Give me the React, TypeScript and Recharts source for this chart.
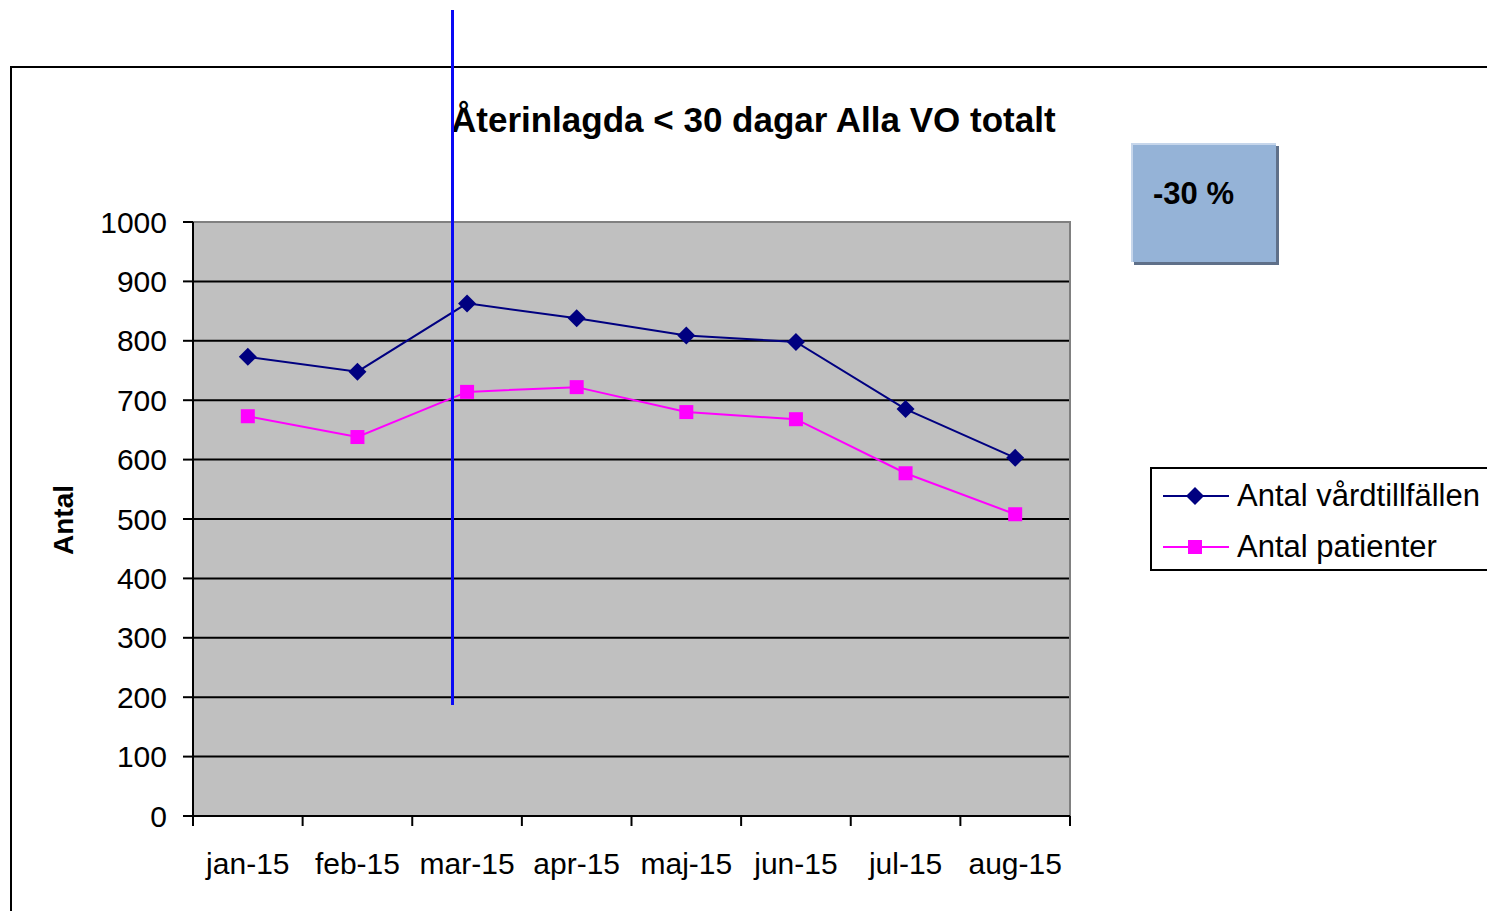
import React from 'react';
import {
  LineChart,
  Line,
  XAxis,
  YAxis,
  CartesianGrid,
  ReferenceArea,
  Legend,
} from 'recharts';

const months = ['jan-15', 'feb-15', 'mar-15', 'apr-15', 'maj-15', 'jun-15', 'jul-15', 'aug-15'];
const vardtillfallen = [773, 748, 863, 838, 809, 798, 685, 603];
const patienter = [673, 638, 714, 722, 680, 668, 577, 508];
const yTicks = [0, 100, 200, 300, 400, 500, 600, 700, 800, 900, 1000];

const FONT = '"Liberation Sans", Arial, sans-serif';
const NAVY = '#000080';
const MAGENTA = '#FF00FF';

// plot area in page pixels
const PLOT_LEFT = 193;
const PLOT_RIGHT = 1070;
const PLOT_TOP = 222;
const PLOT_BOTTOM = 816;
const HALF_BAND = (PLOT_RIGHT - PLOT_LEFT) / months.length / 2;

const data = months.map((month, i) => ({
  month,
  vard: vardtillfallen[i],
  pat: patienter[i],
}));

// eslint-disable-next-line @typescript-eslint/no-explicit-any
const diamondDot = (props: any) => {
  const { cx, cy, index } = props;
  const r = 9;
  return (
    <path
      key={`d-${index}`}
      d={`M${cx},${cy - r}L${cx + r},${cy}L${cx},${cy + r}L${cx - r},${cy}Z`}
      fill={NAVY}
    />
  );
};

// eslint-disable-next-line @typescript-eslint/no-explicit-any
const squareDot = (props: any) => {
  const { cx, cy, index } = props;
  const s = 14;
  return <rect key={`s-${index}`} x={cx - s / 2} y={cy - s / 2} width={s} height={s} fill={MAGENTA} />;
};

// eslint-disable-next-line @typescript-eslint/no-explicit-any
const MonthTick = (props: any) => {
  const { x, y, payload, index } = props;
  const last = index === months.length - 1;
  return (
    <g>
      <line x1={x - HALF_BAND} y1={y} x2={x - HALF_BAND} y2={y + 10} stroke="#000" strokeWidth={2} />
      {last && (
        <line x1={x + HALF_BAND} y1={y} x2={x + HALF_BAND} y2={y + 10} stroke="#000" strokeWidth={2} />
      )}
      <text x={x} y={y + 58} textAnchor="middle" fontSize={30} fontFamily={FONT} fill="#000">
        {payload.value}
      </text>
    </g>
  );
};

function LegendBox() {
  const row = (color: string, marker: React.ReactNode, label: string) => (
    <div style={{ display: 'flex', alignItems: 'center', height: 51 }}>
      <svg width={66} height={20} style={{ marginRight: 8 }}>
        <line x1={0} y1={10} x2={66} y2={10} stroke={color} strokeWidth={2} />
        {marker}
      </svg>
      <span style={{ fontSize: 31, fontFamily: FONT, color: '#000', whiteSpace: 'nowrap' }}>{label}</span>
    </div>
  );
  return (
    <div
      style={{
        border: '2px solid #000',
        background: '#fff',
        boxSizing: 'border-box',
        height: 104,
        paddingLeft: 11,
        paddingTop: 1,
      }}
    >
      {row(NAVY, <path d="M32,1L41,10L32,19L23,10Z" fill={NAVY} />, 'Antal vårdtillfällen')}
      {row(MAGENTA, <rect x={25} y={3} width={14} height={14} fill={MAGENTA} />, 'Antal patienter')}
    </div>
  );
}

export default function App() {
  return (
    <div
      style={{
        position: 'absolute',
        left: 0,
        top: 0,
        width: 1487,
        height: 911,
        overflow: 'hidden',
        background: '#fff',
        fontFamily: FONT,
      }}
    >
      <div
        style={{
          position: 'absolute',
          left: 10,
          top: 66,
          width: 1500,
          height: 900,
          border: '2px solid #000',
        }}
      />
      <div
        style={{
          position: 'absolute',
          left: 451,
          top: 98,
          fontSize: 35,
          lineHeight: '44px',
          fontWeight: 'bold',
          whiteSpace: 'nowrap',
        }}
      >
        Återinlagda &lt; 30 dagar Alla VO totalt
      </div>
      <div
        style={{
          position: 'absolute',
          left: 1131,
          top: 143,
          width: 145,
          height: 119,
          background: '#95B3D7',
          borderTop: '2px solid #C6D6EB',
          borderLeft: '2px solid #C6D6EB',
          boxShadow: '3px 3px 0 #5F7089',
          boxSizing: 'border-box',
        }}
      />
      <div
        style={{
          position: 'absolute',
          left: 1153,
          top: 176,
          fontSize: 31,
          lineHeight: '36px',
          fontWeight: 'bold',
          whiteSpace: 'nowrap',
        }}
      >
        -30 %
      </div>
      <div
        style={{
          position: 'absolute',
          left: 64,
          top: 520,
          transform: 'translate(-50%, -50%) rotate(-90deg)',
          fontSize: 28,
          fontWeight: 'bold',
          whiteSpace: 'nowrap',
        }}
      >
        Antal
      </div>
      <div style={{ position: 'absolute', left: 0, top: 0 }}>
        <LineChart
          width={1487}
          height={911}
          data={data}
          margin={{ top: PLOT_TOP, right: 1487 - PLOT_RIGHT, bottom: 911 - PLOT_BOTTOM - 60, left: PLOT_LEFT - 80 }}
        >
          <CartesianGrid vertical={false} stroke="#000" strokeWidth={2} fill="#C0C0C0" fillOpacity={1} />
          <ReferenceArea y1={0} y2={1000} fill="none" stroke="#808080" strokeWidth={2} />
          <XAxis
            dataKey="month"
            scale="band"
            height={60}
            tickLine={false}
            tickSize={0}
            tickMargin={0}
            axisLine={{ stroke: '#000', strokeWidth: 2 }}
            tick={<MonthTick />}
            interval={0}
          />
          <YAxis
            width={80}
            domain={[0, 1000]}
            ticks={yTicks}
            tickSize={10}
            tickMargin={16}
            tickLine={{ stroke: '#000', strokeWidth: 2 }}
            axisLine={{ stroke: '#000', strokeWidth: 2 }}
            tick={{ fill: '#000', fontSize: 30, fontFamily: FONT }}
          />
          <Legend
            layout="horizontal"
            verticalAlign="middle"
            wrapperStyle={{ left: 1150, top: 467, width: 360 }}
            content={() => <LegendBox />}
          />
          <Line
            dataKey="vard"
            name="Antal vårdtillfällen"
            stroke={NAVY}
            strokeWidth={2}
            dot={diamondDot}
            isAnimationActive={false}
          />
          <Line
            dataKey="pat"
            name="Antal patienter"
            stroke={MAGENTA}
            strokeWidth={2}
            dot={squareDot}
            isAnimationActive={false}
          />
        </LineChart>
      </div>
      <div
        style={{
          position: 'absolute',
          left: 451,
          top: 10,
          width: 3,
          height: 695,
          background: '#0A0AF5',
        }}
      />
    </div>
  );
}
